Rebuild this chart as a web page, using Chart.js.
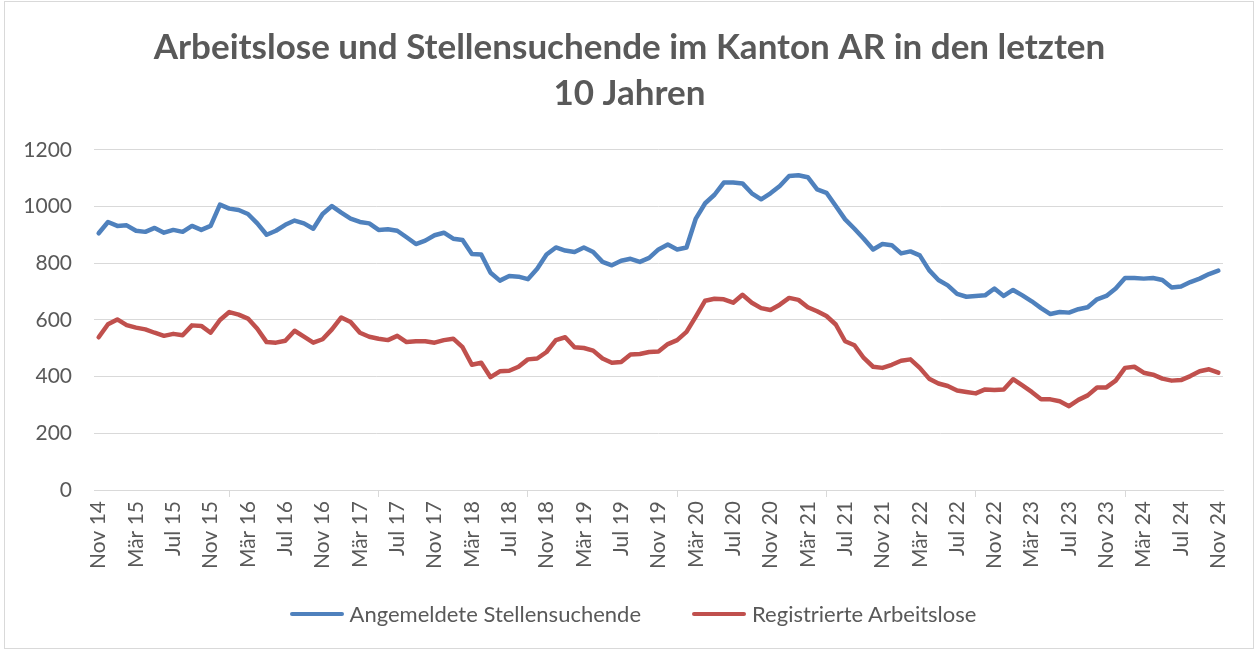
<!DOCTYPE html>
<html>
<head>
<meta charset="utf-8">
<title>Arbeitslose und Stellensuchende AR</title>
<script src="https://cdn.jsdelivr.net/npm/chart.js@4.4.1/dist/chart.umd.min.js"></script>
<style>
  body { margin: 0; background: #fff; }
  #wrap { position: relative; width: 1259px; height: 651px; }
  #frame { position: absolute; left: 4px; top: 1px; width: 1248px; height: 646px; border: 1px solid #d9d9d9; pointer-events: none; }
  #legend {
    position: absolute; left: 7px; top: 601px; width: 1252px;
    display: flex; justify-content: center; gap: 51px;
    font-family: Lato, "Liberation Sans", sans-serif; font-size: 22px; line-height: 26px; color: #595959;
  }
  #legend .item { display: flex; align-items: center; }
  #legend .swatch { display: inline-block; width: 54px; height: 4.5px; border-radius: 3px; margin-right: 6px; }
</style>
</head>
<body>
<div id="wrap">
  <canvas id="chart"></canvas>
  <div id="legend"></div>
  <div id="frame"></div>
</div>
<script>
// monthly values Nov 2014 .. Nov 2024
const monthNames = ["Jan", "Feb", "Mär", "Apr", "Mai", "Jun", "Jul", "Aug", "Sep", "Okt", "Nov", "Dez"];
const firstYear = 14;
const firstMonth = 10; // Nov
const monthCount = 121;

const stellensuchende = [
    906, 946, 932, 934, 915, 911, 925, 908, 918, 911, 932, 918, 932, 1007, 993, 988,
    974, 941, 901, 915, 936, 951, 941, 922, 974, 1002, 979, 958, 946, 941, 918,
    920, 915, 892, 868, 880, 899, 908, 887, 882, 833, 831, 767, 739, 755, 753, 744,
    781, 831, 856, 845, 840, 856, 840, 805, 793, 809, 816, 805, 819, 849, 866,
    849, 856, 958, 1012, 1042, 1085, 1085, 1082, 1047, 1026, 1047, 1073, 1108, 1111, 1104, 1061,
    1049, 1002, 955, 922, 887, 849, 868, 864, 835, 842, 828, 776, 741, 722, 692,
    682, 685, 687, 711, 685, 706, 687, 666, 642, 621, 628, 626, 638, 645,
    673, 685, 711, 748, 748, 746, 748, 741, 715, 718, 734, 746, 762, 774
];

const arbeitslose = [
    539, 585, 602, 582, 573, 567, 555, 544, 551, 546, 581, 579, 555, 600, 628, 619,
    605, 569, 522, 520, 527, 562, 541, 520, 532, 567, 609, 593, 555, 541, 534,
    529, 544, 522, 525, 525, 520, 529, 534, 504, 442, 449, 398, 419, 421, 435, 461,
    464, 487, 529, 539, 504, 501, 492, 464, 449, 452, 478, 480, 487, 489, 515,
    529, 558, 612, 668, 675, 673, 661, 689, 661, 642, 635, 654, 678, 671, 645, 631,
    614, 584, 525, 511, 466, 435, 431, 442, 456, 461, 431, 393, 376, 367, 351,
    346, 341, 355, 353, 355, 391, 369, 346, 320, 320, 313, 296, 318, 334,
    362, 362, 386, 431, 435, 414, 407, 393, 386, 388, 402, 419, 426, 414
];

const months = [];
for (let i = 0; i < monthCount; i++) {
    const m = (firstMonth + i) % 12;
    const y = firstYear + Math.floor((firstMonth + i) / 12);
    months.push(monthNames[m] + " " + y);
}

const textColor = "#595959";
const gridColor = "#d9d9d9";
const fontFamily = "Lato, 'Liberation Sans', sans-serif";

const ctx = document.getElementById("chart").getContext("2d");
const chart = new Chart(ctx, {
    type: "line",
    data: {
        labels: months,
        datasets: [
            {
                label: "Angemeldete Stellensuchende",
                data: stellensuchende,
                borderColor: "#4f81bd",
                backgroundColor: "#4f81bd",
                borderWidth: 4.5,
                borderCapStyle: "round",
                borderJoinStyle: "round",
                pointRadius: 0,
                tension: 0
            },
            {
                label: "Registrierte Arbeitslose",
                data: arbeitslose,
                borderColor: "#c0504d",
                backgroundColor: "#c0504d",
                borderWidth: 4.5,
                borderCapStyle: "round",
                borderJoinStyle: "round",
                pointRadius: 0,
                tension: 0
            }
        ]
    },
    options: {
        responsive: true,
        maintainAspectRatio: false,
        animation: false,
        layout: {
            padding: { top: 25, left: 18, right: 18, bottom: 66 }
        },
        plugins: {
            title: {
                display: true,
                text: ["Arbeitslose und Stellensuchende im Kanton AR in den letzten", "10 Jahren"],
                color: textColor,
                font: { family: fontFamily, size: 35, weight: "bold", lineHeight: 1.314 },
                padding: { top: 0, bottom: 33 }
            },
            legend: { display: false },
            tooltip: { enabled: false }
        },
        scales: {
            x: {
                offset: true,
                border: { color: gridColor, width: 1 },
                grid: {
                    offset: true,
                    drawOnChartArea: false,
                    tickLength: 7,
                    tickColor: c => c.index % 4 === 0 ? gridColor : "rgba(0,0,0,0)"
                },
                ticks: {
                    autoSkip: false,
                    maxRotation: 90,
                    minRotation: 90,
                    padding: 4,
                    color: textColor,
                    font: { family: fontFamily, size: 21 },
                    callback: (v, i) => i % 4 === 0 ? months[i] : null
                },
                afterFit: scale => { scale.height = 95; }
            },
            y: {
                min: 0,
                max: 1200,
                border: { display: false },
                grid: { color: gridColor, lineWidth: 1, drawTicks: false },
                ticks: {
                    stepSize: 200,
                    padding: 22,
                    color: textColor,
                    font: { family: fontFamily, size: 21 },
                    callback: v => String(v)
                },
                afterFit: scale => { scale.width = 76; }
            },
            // empty right-hand axis, only keeps the plot edge where Excel has it
            yRight: {
                position: "right",
                grid: { display: false },
                border: { display: false },
                ticks: { display: false },
                afterFit: scale => { scale.width = 18; }
            }
        }
    }
});

// legend as html, line swatch + label per series
const legendBox = document.getElementById("legend");
chart.data.datasets.forEach(ds => {
    const item = document.createElement("div");
    item.className = "item";
    const swatch = document.createElement("span");
    swatch.className = "swatch";
    swatch.style.background = ds.borderColor;
    const label = document.createElement("span");
    label.textContent = ds.label;
    item.appendChild(swatch);
    item.appendChild(label);
    legendBox.appendChild(item);
});
</script>
</body>
</html>
